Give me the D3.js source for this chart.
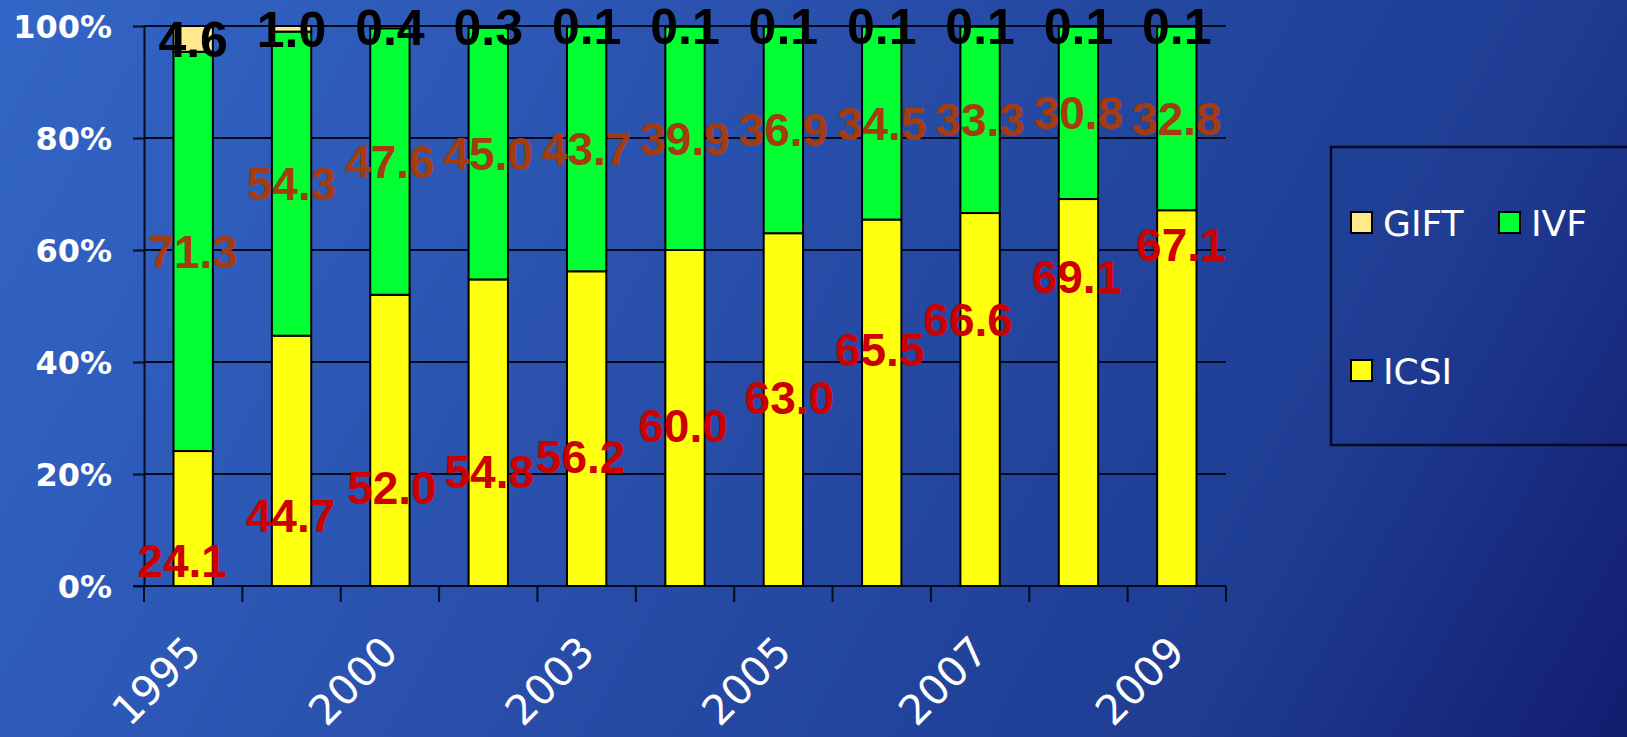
<!DOCTYPE html>
<html>
<head>
<meta charset="utf-8">
<script src="https://cdn.jsdelivr.net/npm/d3@7"></script>
<style>
  html, body { margin: 0; padding: 0; overflow: hidden; background: #1f3a96; }
  svg { display: block; }
</style>
</head>
<body>
<svg id="chart" width="1627" height="737"></svg>
<script>
// Share of treatment cycles by technique (%)
const years = ["1995", "1998", "2000", "2002", "2003", "2004", "2005", "2006", "2007", "2008", "2009"];
const shownYears = ["1995", "2000", "2003", "2005", "2007", "2009"];
const icsi = [24.1, 44.7, 52.0, 54.8, 56.2, 60.0, 63.0, 65.5, 66.6, 69.1, 67.1];
const ivf  = [71.3, 54.3, 47.6, 45.0, 43.7, 39.9, 36.9, 34.5, 33.3, 30.8, 32.8];
const gift = [4.6, 1.0, 0.4, 0.3, 0.1, 0.1, 0.1, 0.1, 0.1, 0.1, 0.1];
const seriesKeys = ["ICSI", "IVF", "GIFT"];
const yTickValues = [0, 0.2, 0.4, 0.6, 0.8, 1.0];

// where the ICSI value labels were placed (share of the column height) and their sideways nudge
const icsiLabelAt = [0.046, 0.126, 0.176, 0.204, 0.231, 0.287, 0.337, 0.422, 0.476, 0.553, 0.61];
const icsiLabelNudge = [-11, -1, 2, 1, -6, -2, 6, -2, -12, -2, 4];

const colors = { ICSI: "#FFFF10", IVF: "#00FF33", GIFT: "#FFE98C" };
const labelColors = { ICSI: "#CC0000", IVF: "#A53C0F", GIFT: "#000000" };

const W = 1627, H = 737;
const plot = { left: 144, right: 1226, top: 26, bottom: 586 };

const svg = d3.select("#chart");

// backdrop gradient
const defs = svg.append("defs");
const grad = defs.append("linearGradient")
  .attr("id", "bg").attr("gradientUnits", "userSpaceOnUse")
  .attr("x1", 0).attr("y1", 0).attr("x2", W).attr("y2", 900);
grad.append("stop").attr("offset", 0).attr("stop-color", "#3366C6");
grad.append("stop").attr("offset", 0.35).attr("stop-color", "#2A52AE");
grad.append("stop").attr("offset", 0.75).attr("stop-color", "#1E3C92");
grad.append("stop").attr("offset", 1).attr("stop-color", "#101668");
svg.append("rect").attr("width", W).attr("height", H).attr("fill", "url(#bg)");

const rows = years.map((yr, i) => ({ year: yr, ICSI: icsi[i], IVF: ivf[i], GIFT: gift[i] }));
const stacked = d3.stack().keys(seriesKeys).offset(d3.stackOffsetExpand)(rows);

const x = d3.scaleBand().domain(years)
  .range([plot.left, plot.right])
  .paddingInner(0.6).paddingOuter(0.3);
const y = d3.scaleLinear().domain([0, 1]).range([plot.bottom, plot.top]);

// horizontal gridlines
svg.append("g").selectAll("line")
  .data(yTickValues.filter(v => v > 0))
  .join("line")
  .attr("x1", plot.left).attr("x2", plot.right)
  .attr("y1", d => y(d)).attr("y2", d => y(d))
  .attr("stroke", "#050a1e").attr("stroke-width", 2);

// value axis
const yAxis = svg.append("g")
  .attr("transform", `translate(${plot.left},0)`)
  .call(d3.axisLeft(y).tickValues(yTickValues).tickFormat(d3.format(".0%")).tickSize(11).tickSizeOuter(0));
yAxis.select(".domain").attr("stroke", "#050a1e").attr("stroke-width", 2);
yAxis.selectAll(".tick line").attr("stroke", "#050a1e").attr("stroke-width", 2);
yAxis.selectAll(".tick text")
  .attr("x", -32).attr("dy", "0.36em")
  .attr("fill", "#ffffff")
  .style("font-family", "'DejaVu Sans', Verdana, sans-serif")
  .style("font-weight", "bold")
  .style("font-size", "32px");

// category axis baseline and boundary ticks
const half = (x.step() - x.bandwidth()) / 2;
const bounds = years.map(d => x(d) - half).concat([x(years[years.length - 1]) + x.bandwidth() + half]);
svg.append("line")
  .attr("x1", plot.left - 11).attr("x2", plot.right)
  .attr("y1", plot.bottom).attr("y2", plot.bottom)
  .attr("stroke", "#050a1e").attr("stroke-width", 2);
svg.append("g").selectAll("line")
  .data(bounds)
  .join("line")
  .attr("x1", d => d).attr("x2", d => d)
  .attr("y1", plot.bottom).attr("y2", plot.bottom + 16)
  .attr("stroke", "#050a1e").attr("stroke-width", 2);

// category labels
const xAxis = svg.append("g")
  .attr("transform", `translate(0,${plot.bottom})`)
  .call(d3.axisBottom(x).tickValues(shownYears).tickSize(0));
xAxis.select(".domain").remove();
xAxis.selectAll(".tick text")
  .attr("x", 0).attr("y", 0).attr("dy", 0)
  .attr("text-anchor", "end")
  .attr("transform", "translate(10,68) rotate(-45)")
  .attr("fill", "#ffffff")
  .style("font-family", "'DejaVu Sans', Verdana, sans-serif")
  .style("font-size", "41px");

// stacked columns
svg.append("g").selectAll("g")
  .data(stacked)
  .join("g")
  .attr("fill", d => colors[d.key])
  .selectAll("rect")
  .data(d => d)
  .join("rect")
  .attr("x", d => x(d.data.year))
  .attr("width", x.bandwidth())
  .attr("y", d => y(d[1]))
  .attr("height", d => y(d[0]) - y(d[1]))
  .attr("stroke", "#000000")
  .attr("stroke-width", 2);

// value labels
const labelFont = "'Liberation Sans', Arial, sans-serif";
const layers = Object.fromEntries(stacked.map(s => [s.key, s]));

svg.append("g").selectAll("text")
  .data(layers.ICSI)
  .join("text")
  .attr("x", (d, i) => x(d.data.year) + x.bandwidth() / 2 + icsiLabelNudge[i])
  .attr("y", (d, i) => y(icsiLabelAt[i]))
  .attr("dy", "0.36em")
  .attr("text-anchor", "middle")
  .attr("fill", labelColors.ICSI)
  .style("font-family", labelFont).style("font-weight", "bold").style("font-size", "46px")
  .text(d => d.data.ICSI.toFixed(1));

svg.append("g").selectAll("text")
  .data(layers.IVF)
  .join("text")
  .attr("x", d => x(d.data.year) + x.bandwidth() / 2)
  .attr("y", d => y((d[0] + d[1]) / 2))
  .attr("dy", "0.36em")
  .attr("text-anchor", "middle")
  .attr("fill", labelColors.IVF)
  .style("font-family", labelFont).style("font-weight", "bold").style("font-size", "46px")
  .text(d => d.data.IVF.toFixed(1));

svg.append("g").selectAll("text")
  .data(layers.GIFT)
  .join("text")
  .attr("x", d => x(d.data.year) + x.bandwidth() / 2)
  .attr("y", d => y((d[0] + d[1]) / 2))
  .attr("dy", "0.36em")
  .attr("text-anchor", "middle")
  .attr("fill", labelColors.GIFT)
  .style("font-family", labelFont).style("font-weight", "bold").style("font-size", "50px")
  .text(d => d.data.GIFT.toFixed(1));

// legend
const legend = svg.append("g");
legend.append("rect")
  .attr("x", 1331).attr("y", 147).attr("width", 320).attr("height", 298)
  .attr("fill", "none").attr("stroke", "#050a1e").attr("stroke-width", 2.5);
const legendItems = [
  { key: "GIFT", x: 1351, y: 212 },
  { key: "IVF", x: 1499, y: 212 },
  { key: "ICSI", x: 1351, y: 360 }
];
const li = legend.selectAll("g.item").data(legendItems).join("g").attr("class", "item");
li.append("rect")
  .attr("x", d => d.x).attr("y", d => d.y)
  .attr("width", 21).attr("height", 21)
  .attr("fill", d => colors[d.key]).attr("stroke", "#000000").attr("stroke-width", 2);
li.append("text")
  .attr("x", d => d.x + 32).attr("y", d => d.y + 11)
  .attr("dy", "0.36em")
  .attr("fill", "#ffffff")
  .style("font-family", "'DejaVu Sans', Verdana, sans-serif")
  .style("font-size", "36px")
  .text(d => d.key);
</script>
</body>
</html>
